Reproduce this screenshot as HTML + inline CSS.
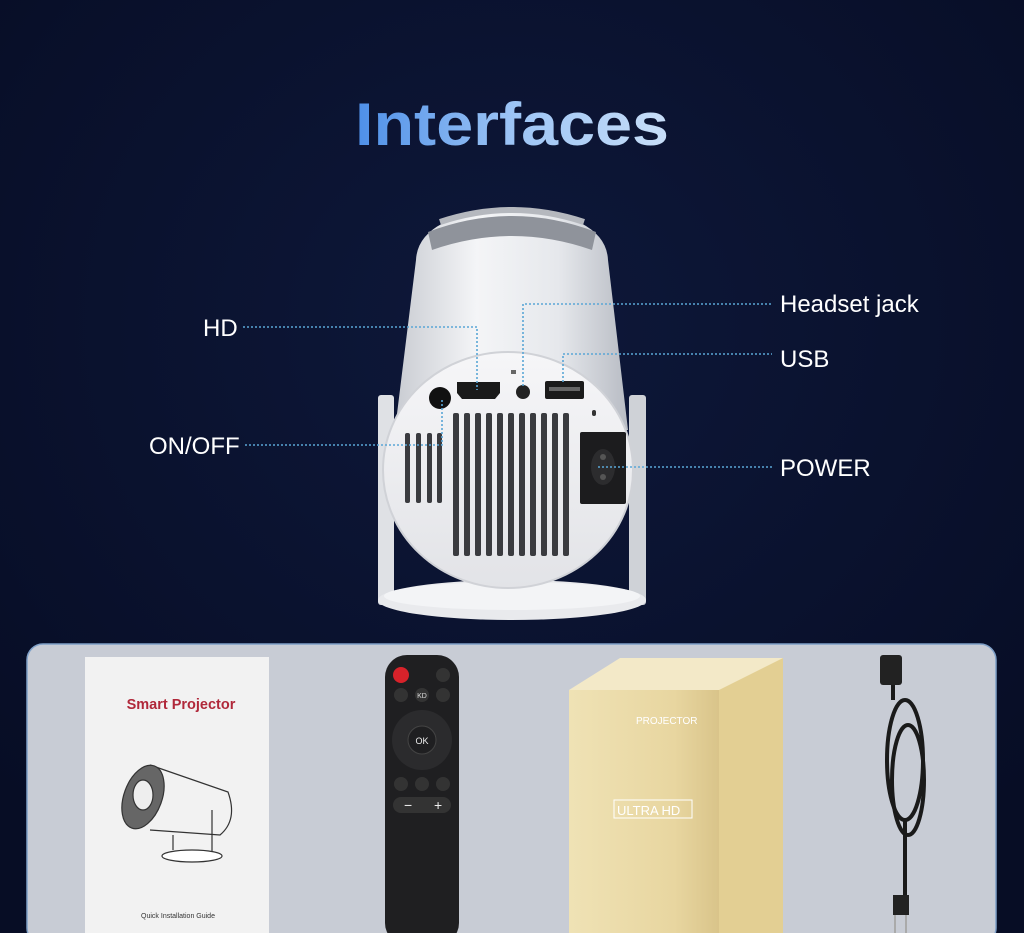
<!DOCTYPE html>
<html><head><style>html,body{margin:0;padding:0;background:#08102b;}svg{display:block}</style></head>
<body>
<svg width="1024" height="933" viewBox="0 0 1024 933" xmlns="http://www.w3.org/2000/svg" font-family="Liberation Sans, sans-serif">
<defs>
<linearGradient id="tg" x1="0" x2="1"><stop offset="0" stop-color="#4d8fe8"/><stop offset="0.5" stop-color="#9cc4f5"/><stop offset="1" stop-color="#c8def8"/></linearGradient>
<radialGradient id="bg" cx="0.5" cy="0.35" r="0.7"><stop offset="0" stop-color="#0e183a"/><stop offset="1" stop-color="#070d25"/></radialGradient>
<linearGradient id="cyl" x1="0" x2="1"><stop offset="0" stop-color="#c9ccd2"/><stop offset="0.35" stop-color="#f4f5f7"/><stop offset="0.7" stop-color="#e6e8ec"/><stop offset="1" stop-color="#b8bcc4"/></linearGradient>
<linearGradient id="disc" x1="0" x2="0" y1="0" y2="1"><stop offset="0" stop-color="#f6f6f8"/><stop offset="1" stop-color="#e2e3e7"/></linearGradient>
<linearGradient id="box" x1="0" x2="1"><stop offset="0" stop-color="#efe2b5"/><stop offset="0.7" stop-color="#e8d6a0"/><stop offset="1" stop-color="#d9c48a"/></linearGradient>
</defs>
<rect width="1024" height="933" fill="url(#bg)"/>
<text x="512" y="145" text-anchor="middle" font-size="60" font-weight="bold" fill="url(#tg)" textLength="314" lengthAdjust="spacingAndGlyphs">Interfaces</text>

<!-- stand -->
<rect x="378" y="395" width="16" height="210" rx="3" fill="#dfe1e5"/>
<rect x="629" y="395" width="17" height="210" rx="3" fill="#cfd2d7"/>
<ellipse cx="512" cy="600" rx="134" ry="20" fill="#e9eaed"/>
<ellipse cx="512" cy="596" rx="128" ry="14" fill="#f3f4f6"/>
<!-- cylinder -->
<path d="M416 260 Q418 215 512 207 Q606 215 608 260 L628 430 L395 430 Z" fill="url(#cyl)"/>
<path d="M428 232 Q512 200 596 232 L592 250 Q512 222 432 250 Z" fill="#8f939b"/>
<path d="M440 222 Q512 198 584 222" stroke="#b5b8be" stroke-width="6" fill="none"/>
<!-- disc -->
<ellipse cx="508" cy="470" rx="125" ry="118" fill="url(#disc)" stroke="#d0d2d7" stroke-width="2"/>
<!-- ports -->
<circle cx="440" cy="398" r="11" fill="#111"/>
<path d="M457 382 H500 V393 L495 399 H462 L457 393 Z" fill="#1a1a1a"/>
<circle cx="523" cy="392" r="7" fill="#222"/>
<rect x="545" y="381" width="39" height="18" rx="2" fill="#1b1b1b"/>
<rect x="549" y="387" width="31" height="4" fill="#666"/>
<rect x="511" y="370" width="5" height="4" fill="#666"/>
<rect x="592" y="410" width="4" height="6" rx="2" fill="#333"/>
<g fill="#3a3b3f">
<rect x="453" y="413" width="6" height="143" rx="2"/><rect x="464" y="413" width="6" height="143" rx="2"/><rect x="475" y="413" width="6" height="143" rx="2"/><rect x="486" y="413" width="6" height="143" rx="2"/><rect x="497" y="413" width="6" height="143" rx="2"/><rect x="508" y="413" width="6" height="143" rx="2"/><rect x="519" y="413" width="6" height="143" rx="2"/><rect x="530" y="413" width="6" height="143" rx="2"/><rect x="541" y="413" width="6" height="143" rx="2"/><rect x="552" y="413" width="6" height="143" rx="2"/><rect x="563" y="413" width="6" height="143" rx="2"/>
<rect x="405" y="433" width="5" height="70" rx="2"/><rect x="416" y="433" width="5" height="70" rx="2"/><rect x="427" y="433" width="5" height="70" rx="2"/><rect x="437" y="433" width="5" height="70" rx="2"/>
</g>
<rect x="580" y="432" width="46" height="72" rx="2" fill="#1c1c1e"/>
<ellipse cx="603" cy="467" rx="12" ry="18" fill="#2c2c2e"/>
<circle cx="603" cy="457" r="3" fill="#555"/><circle cx="603" cy="477" r="3" fill="#555"/>

<!-- connectors -->
<g stroke="#5aa6d6" stroke-width="1.6" stroke-dasharray="2 2" fill="none">
<path d="M243 327 H477 V390"/>
<path d="M523 386 V304 H772"/>
<path d="M563 382 V354 H772"/>
<path d="M245 445 H442 V400"/>
<path d="M598 467 H772"/>
</g>
<g fill="#fff" font-size="24">
<text x="203" y="336">HD</text>
<text x="780" y="312">Headset jack</text>
<text x="780" y="367">USB</text>
<text x="149" y="454">ON/OFF</text>
<text x="780" y="476">POWER</text>
</g>

<!-- bottom panel -->
<rect x="27" y="644" width="969" height="300" rx="16" fill="#c8ccd5" stroke="#7fa0c8" stroke-width="1.5"/>
<!-- booklet -->
<rect x="85" y="657" width="184" height="276" fill="#f2f2f2"/>
<text x="181" y="709" text-anchor="middle" font-size="14.5" font-weight="bold" fill="#b0283a">Smart Projector</text>
<g fill="none" stroke="#333" stroke-width="1.2">
<path d="M150 765 L228 792 Q238 820 220 835 L150 830"/>
<ellipse cx="143" cy="797" rx="19" ry="33" transform="rotate(20 143 797)" fill="#666"/>
<ellipse cx="143" cy="795" rx="10" ry="15" fill="#eee"/>
<path d="M212 810 V855"/><path d="M173 835 V850"/>
<ellipse cx="192" cy="856" rx="30" ry="6" fill="#fff"/>
</g>
<text x="178" y="918" text-anchor="middle" font-size="7" fill="#333">Quick Installation Guide</text>
<!-- remote -->
<rect x="385" y="655" width="74" height="290" rx="22" fill="#1f1f21"/>
<circle cx="401" cy="675" r="8" fill="#d8222a"/>
<circle cx="443" cy="675" r="7" fill="#333"/>
<circle cx="401" cy="695" r="7" fill="#333"/><circle cx="422" cy="695" r="7" fill="#333"/><circle cx="443" cy="695" r="7" fill="#333"/>
<text x="422" y="698" text-anchor="middle" font-size="7" fill="#ddd">KD</text>
<circle cx="422" cy="740" r="30" fill="#2b2b2d"/>
<circle cx="422" cy="740" r="14" fill="#1f1f21" stroke="#444"/>
<text x="422" y="744" text-anchor="middle" font-size="9" fill="#eee">OK</text>
<circle cx="401" cy="784" r="7" fill="#333"/><circle cx="422" cy="784" r="7" fill="#333"/><circle cx="443" cy="784" r="7" fill="#333"/>
<rect x="393" y="797" width="58" height="16" rx="8" fill="#333"/>
<text x="404" y="810" font-size="14" fill="#eee">−</text><text x="434" y="810" font-size="14" fill="#eee">+</text>
<!-- box -->
<path d="M569 690 L620 658 L783 658 L783 690 Z" fill="#f3e9c8"/>
<rect x="569" y="690" width="150" height="243" fill="url(#box)"/>
<path d="M719 690 L783 658 V933 H719 Z" fill="#e3cf93"/>
<text x="636" y="724" font-size="10" fill="#fff">PROJECTOR</text>
<rect x="614" y="800" width="78" height="18" fill="none" stroke="#fff"/>
<text x="617" y="815" font-size="13" fill="#fff">ULTRA HD</text>
<!-- cable -->
<g stroke="#1a1a1a" stroke-width="4" fill="none">
<path d="M893 665 V700"/>
<ellipse cx="905" cy="760" rx="18" ry="60"/>
<ellipse cx="908" cy="780" rx="16" ry="55"/>
<path d="M905 820 V900"/>
</g>
<rect x="880" y="655" width="22" height="30" rx="3" fill="#222"/>
<rect x="893" y="895" width="16" height="20" fill="#222"/>
<path d="M895 915 V933 M906 915 V933" stroke="#aaa" stroke-width="2"/>
</svg>
</body></html>
